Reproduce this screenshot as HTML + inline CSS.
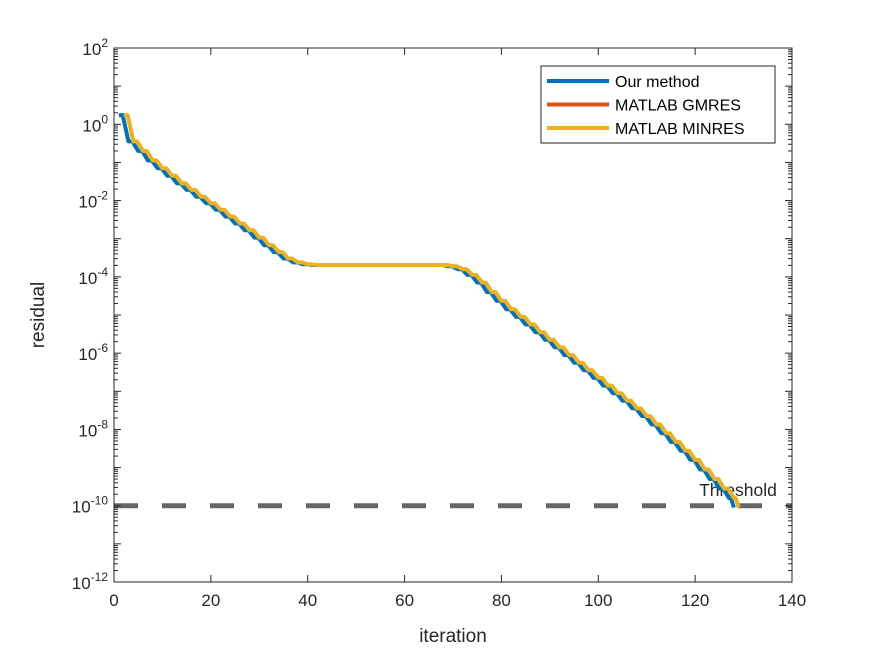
<!DOCTYPE html>
<html><head><meta charset="utf-8"><style>
body{margin:0;background:#fff;}
svg{display:block;font-family:"Liberation Sans",Arial,sans-serif;}
</style></head><body>
<svg id="chart" width="875" height="656" viewBox="0 0 875 656" xmlns="http://www.w3.org/2000/svg">
<rect width="875" height="656" fill="#fff"/>
<g id="plot"></g>
</svg>
<script>
const iterations = [1,3,5,7,9,11,13,15,17,19,21,23,25,27,29,31,33,35,37,39,41,43,45,47,49,51,53,55,57,59,61,63,65,67,69,71,73,75,77,79,81,83,85,87,89,91,93,95,97,99,101,103,105,107,109,111,113,115,117,119,121,123,125,127,128];
const logResidual = [0.24,-0.45,-0.7,-0.95,-1.15,-1.35,-1.55,-1.72,-1.9,-2.07,-2.24,-2.42,-2.6,-2.78,-2.97,-3.17,-3.35,-3.52,-3.62,-3.67,-3.69,-3.69,-3.69,-3.69,-3.69,-3.69,-3.69,-3.69,-3.69,-3.69,-3.69,-3.69,-3.69,-3.69,-3.72,-3.8,-3.95,-4.15,-4.4,-4.63,-4.85,-5.05,-5.25,-5.45,-5.65,-5.85,-6.05,-6.25,-6.45,-6.65,-6.85,-7.05,-7.25,-7.45,-7.65,-7.87,-8.1,-8.33,-8.56,-8.8,-9.05,-9.3,-9.55,-9.8,-10.05];
const minresShift = 1;
const xTicks = [0,20,40,60,80,100,120,140];
const yTickExps = [2,0,-2,-4,-6,-8,-10,-12];
const thresholdExp = -10;
const seriesNames = ["Our method","MATLAB GMRES","MATLAB MINRES"];
const seriesColors = ["#0072BD","#D95319","#EDB120"];

const L=114,R=792,T=48,B=582;
const X=v=>L+(v-0)/(140-0)*(R-L);
const Y=e=>T+(2-e)/(2-(-12))*(B-T);
const NS="http://www.w3.org/2000/svg";
const g=document.getElementById('plot');
function mk(tag,attrs,parent){const e=document.createElementNS(NS,tag);for(const k in attrs)e.setAttribute(k,attrs[k]);(parent||g).appendChild(e);return e;}

// threshold
const th=mk('line',{x1:L,x2:R,y1:Y(thresholdExp),y2:Y(thresholdExp),stroke:'#666','stroke-width':5,'stroke-dasharray':'24 24'});


const tt=mk('text',{x:738,y:496,'font-size':17.5,fill:'#262626','text-anchor':'middle'});
tt.textContent='Threshold';



function stepPath(shift){
  let d='';
  for(let i=0;i<iterations.length;i++){
    const x0=iterations[i]+shift, v=logResidual[i];
    d+=(i?'L':'M')+X(x0).toFixed(1)+','+Y(v).toFixed(1);
    if(i<iterations.length-1){
      const xm=x0+(iterations[i+1]-iterations[i])*0.4;
      d+='L'+X(xm).toFixed(1)+','+Y(v).toFixed(1);
    }
  }
  return d;
}
const p1=mk('path',{d:stepPath(0),fill:'none',stroke:seriesColors[0],'stroke-width':4,'stroke-linejoin':'round'});


const p3=mk('path',{d:stepPath(minresShift),fill:'none',stroke:seriesColors[2],'stroke-width':4,'stroke-linejoin':'round'});



// axes box
const box=mk('rect',{x:L,y:T,width:R-L,height:B-T,fill:'none',stroke:'#262626','stroke-width':1});


xTicks.forEach(v=>{
  mk('line',{x1:X(v),x2:X(v),y1:B,y2:B-7,stroke:'#262626'});
  mk('line',{x1:X(v),x2:X(v),y1:T,y2:T+7,stroke:'#262626'});
  const t=mk('text',{x:X(v),y:B+24,'font-size':17,fill:'#262626','text-anchor':'middle'});
  t.textContent=v;
  
  
});
for(let e=-12;e<=2;e++){
  mk('line',{x1:L,x2:L+7,y1:Y(e),y2:Y(e),stroke:'#262626'});
  mk('line',{x1:R,x2:R-7,y1:Y(e),y2:Y(e),stroke:'#262626'});
  if(e<2)for(let m=2;m<10;m++){const y=Y(e+Math.log10(m));
    mk('line',{x1:L,x2:L+4,y1:y,y2:y,stroke:'#262626'});
    mk('line',{x1:R,x2:R-4,y1:y,y2:y,stroke:'#262626'});}
}
yTickExps.forEach(e=>{
  const t=mk('text',{x:L-6,y:Y(e)+7,'font-size':17,fill:'#262626','text-anchor':'end'});
  t.innerHTML='10<tspan dy="-8" font-size="12">'+e+'</tspan>';
  
  
});
const xl=mk('text',{x:(L+R)/2,y:642,'font-size':19,fill:'#262626','text-anchor':'middle'});
xl.textContent='iteration';


const yl=mk('text',{x:44,y:315,'font-size':19,fill:'#262626','text-anchor':'middle',transform:'rotate(-90 44 315)'});
yl.textContent='residual';



// legend
const lg=mk('g',{});


mk('rect',{x:541,y:66,width:234,height:77,fill:'#fff',stroke:'#262626','stroke-width':1},lg);
seriesNames.forEach((n,i)=>{
  const y=81+i*23.5;
  const ln=mk('line',{x1:547,x2:609,y1:y,y2:y,stroke:seriesColors[i],'stroke-width':4},lg);
  
  
  const t=mk('text',{x:615,y:y+6,'font-size':16,fill:'#000'},lg);
  t.textContent=n;
  
  
});
</script>
</body></html>
